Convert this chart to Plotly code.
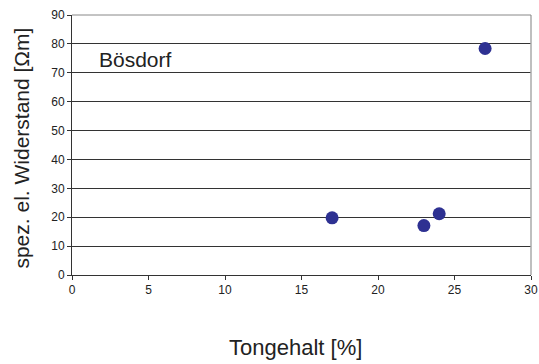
import plotly.graph_objects as go

# Data
clay_content = [17, 23, 24, 27]          # Tongehalt [%]
resistivity = [19.8, 17.1, 21.2, 78.4]   # spez. el. Widerstand [Ohm m]
site_label = "Bösdorf"
x_title = "Tongehalt [%]"
y_title = "spez. el. Widerstand [Ωm]"

FONT = "Liberation Sans, Arial, sans-serif"
GRID = "#333333"
TEXT = "#222222"

fig = go.Figure()
fig.add_trace(go.Scatter(
    x=clay_content,
    y=resistivity,
    mode="markers",
    marker=dict(size=13, color="#2e3192"),
    showlegend=False,
))

fig.add_annotation(
    text=site_label, xref="paper", yref="paper",
    x=0.054, y=0.828, xanchor="left", yanchor="middle",
    showarrow=False, font=dict(family=FONT, size=21, color=TEXT),
)

# axis titles placed by hand
fig.add_annotation(
    text=x_title, xref="paper", yref="paper",
    x=0.488, y=-0.277, xanchor="center", yanchor="middle",
    showarrow=False, font=dict(family=FONT, size=22, color=TEXT),
)
fig.add_annotation(
    text=y_title, xref="paper", yref="paper", textangle=-90,
    x=-0.109, y=0.49, xanchor="center", yanchor="middle",
    showarrow=False, font=dict(family=FONT, size=21, color=TEXT),
)

# top and right border of the plot area
fig.add_shape(type="line", xref="paper", yref="paper",
              x0=1, x1=1, y0=0, y1=1, line=dict(color="#aaaaaa", width=1.5))
fig.add_shape(type="line", xref="paper", yref="paper",
              x0=0, x1=1, y0=1, y1=1, line=dict(color="#888888", width=1))

fig.update_layout(
    width=539, height=364,
    paper_bgcolor="white", plot_bgcolor="white",
    font=dict(family=FONT, size=12, color=TEXT),
    margin=dict(l=72, r=8, t=15, b=89),
    xaxis=dict(
        range=[0, 30], dtick=5, tick0=0, automargin=False,
        showgrid=False, zeroline=False,
        showline=True, linecolor=GRID, linewidth=1,
        ticks="outside", ticklen=4, tickcolor=GRID,
        ticklabeloverflow="allow",
    ),
    yaxis=dict(
        range=[0, 90], dtick=10, tick0=0, automargin=False,
        showgrid=True, gridcolor=GRID, gridwidth=1,
        zeroline=False,
        showline=True, linecolor=GRID, linewidth=1,
        ticks="outside", ticklen=4, tickcolor=GRID,
    ),
)

# drop the default page margin so the figure fills the window exactly
fig.write_html(
    "out.html",
    config={"displayModeBar": False},
    post_script="document.body.style.margin='0';document.body.style.overflow='hidden';",
)
